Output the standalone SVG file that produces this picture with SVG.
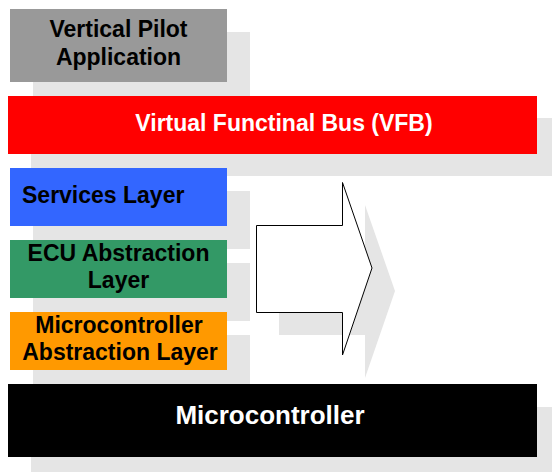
<svg xmlns="http://www.w3.org/2000/svg" width="552" height="473" viewBox="0 0 552 473">
<style>
.sh{fill:#e5e5e5}
.t{font-family:"Liberation Sans",Arial,sans-serif;font-weight:bold;font-size:23px;fill:#000}
.w{fill:#fff}
.c{text-anchor:middle}
</style>
<rect width="552" height="473" fill="#fff"/>
<g id="shadows">
<rect class="sh" x="33" y="32" width="217" height="73"/>
<rect class="sh" x="31" y="118" width="521" height="58"/>
<rect class="sh" x="33" y="191" width="217" height="58"/>
<rect class="sh" x="33" y="263" width="217" height="58"/>
<rect class="sh" x="33" y="335" width="217" height="58"/>
<polygon class="sh" points="279,248 365,248 365,205 395,291 365,378 365,335 279,335"/>
<rect class="sh" x="31" y="407" width="521" height="65"/>
</g>
<g id="vertical-pilot">
<rect x="10" y="9" width="217" height="73" fill="#999999"/>
<text class="t c" x="118.5" y="37">Vertical Pilot</text>
<text class="t c" x="118.5" y="65">Application</text>
</g>
<g id="vfb">
<rect x="8" y="96" width="529" height="58" fill="#ff0000"/>
<text class="t w c" x="284" y="131">Virtual Functinal Bus (VFB)</text>
</g>
<g id="services">
<rect x="10" y="168" width="217" height="58" fill="#3366ff"/>
<text class="t" x="22" y="203">Services Layer</text>
</g>
<g id="ecu">
<rect x="10" y="240" width="217" height="58" fill="#339966"/>
<text class="t c" x="118.5" y="261">ECU Abstraction</text>
<text class="t c" x="118.5" y="288">Layer</text>
</g>
<g id="mcal">
<rect x="10" y="312" width="217" height="58" fill="#ff9900"/>
<text class="t c" x="119" y="333">Microcontroller</text>
<text class="t c" x="120" y="360">Abstraction Layer</text>
</g>
<g id="connectors">
<polygon points="256.5,225.5 342.5,225.5 342.5,182.5 372,268 342.5,355 342.5,312.5 256.5,312.5" fill="#fff" stroke="#000" stroke-width="1"/>
</g>
<g id="microcontroller">
<rect x="8" y="384" width="529" height="73" fill="#000"/>
<text class="t w c" x="270" y="424" style="font-size:26px">Microcontroller</text>
</g>
</svg>
